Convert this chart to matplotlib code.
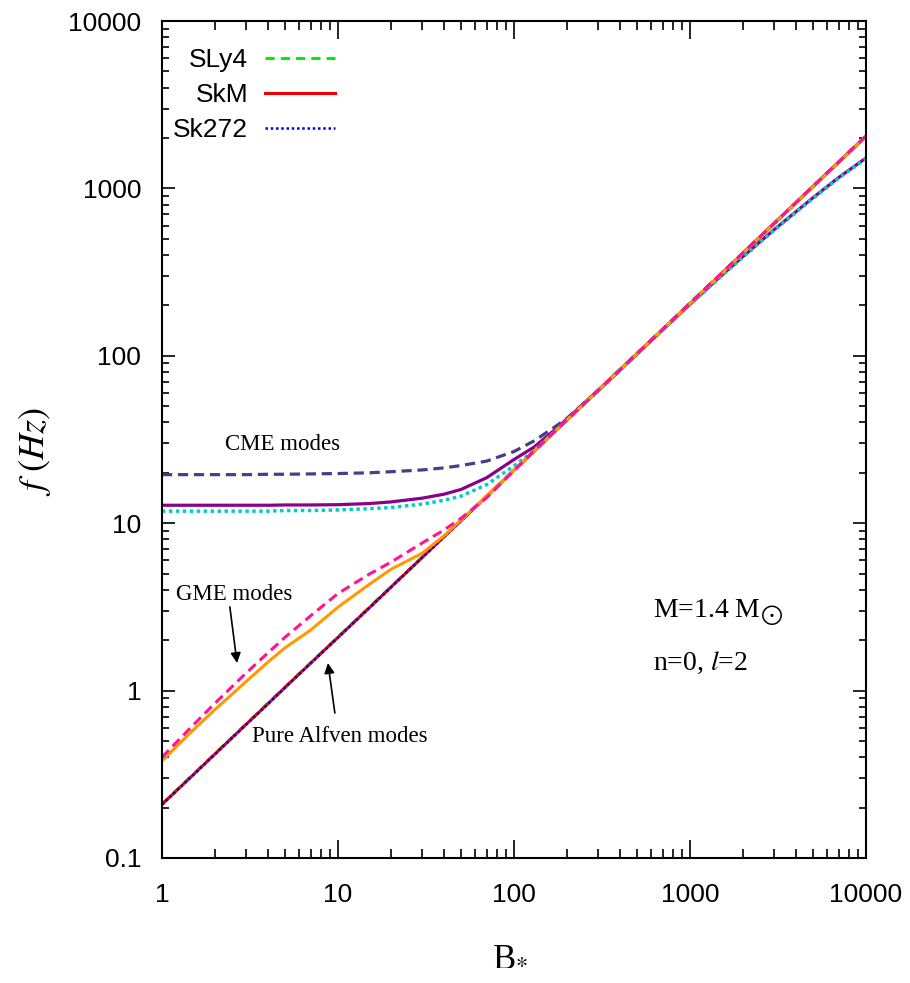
import matplotlib
matplotlib.use("Agg")
import matplotlib.pyplot as plt
from matplotlib.ticker import FixedLocator, FixedFormatter, NullFormatter, LogLocator
from matplotlib.font_manager import FontProperties

# ---------------- data ----------------
B = [1, 1.5, 2, 3, 4, 5, 7, 10, 15, 20, 30, 40, 50, 70, 100, 130, 170, 200,
     300, 500, 700, 1000, 1500, 2000, 3000, 5000, 7000, 10000]

# Pure Alfven modes
alf_sly4 = [0.210, 0.315, 0.42, 0.63, 0.84, 1.05, 1.465, 2.09, 3.13, 4.17, 6.25, 8.33,
            10.4, 14.56, 20.8, 27.0, 35.4, 41.6, 62.2, 103.5, 144.5, 206, 309, 412, 618,
            1030, 1440, 2060]
alf_skm = [0.209, 0.313, 0.418, 0.627, 0.835, 1.044, 1.46, 2.08, 3.11, 4.15, 6.22, 8.29,
           10.35, 14.5, 20.7, 26.9, 35.2, 41.4, 61.9, 103, 144, 205, 307, 410, 615,
           1025, 1435, 2050]
alf_sk272 = [0.208, 0.312, 0.416, 0.624, 0.83, 1.04, 1.455, 2.07, 3.1, 4.13, 6.2, 8.26,
             10.3, 14.4, 20.6, 26.8, 35.0, 41.2, 61.6, 102.5, 143.5, 204, 306, 408, 612,
             1020, 1428, 2040]

# GME modes
gme_sly4 = [0.40, 0.62, 0.84, 1.27, 1.68, 2.08, 2.8, 3.8, 4.95, 5.85, 7.6, 9.1,
            10.7, 14.2, 20.6, 27.0, 35.2, 41.4, 61.8, 103, 144, 206, 309, 412, 618,
            1030, 1440, 2060]
gme_skm = [0.38, 0.58, 0.77, 1.13, 1.48, 1.80, 2.3, 3.15, 4.3, 5.3, 6.6, 8.4,
           10.45, 14.5, 20.7, 26.9, 35.2, 41.4, 61.9, 103, 144, 205, 307, 410, 615,
           1025, 1435, 2050]

# CME modes
cme_sly4 = [19.5, 19.5, 19.5, 19.5, 19.6, 19.6, 19.7, 19.8, 20.0, 20.3, 20.8, 21.4,
            22.1, 23.5, 26.8, 31.0, 37.5, 42.3, 62.0, 103, 144, 206, 308, 411, 617,
            1028, 1438, 2055]
cme_skm = [12.8, 12.8, 12.8, 12.8, 12.8, 12.85, 12.85, 12.9, 13.1, 13.4, 14.1, 14.9,
           15.9, 18.7, 24.0, 28.5, 36.0, 42.0, 62.0, 102.5, 143, 203, 300, 392, 566,
           880, 1162, 1520]
cme_sk272 = [11.8, 11.8, 11.8, 11.8, 11.8, 11.9, 11.9, 12.0, 12.2, 12.4, 13.0, 13.7,
             14.5, 17.0, 22.0, 27.2, 35.2, 41.3, 61.5, 102, 142.5, 202, 298, 389, 562,
             872, 1152, 1505]

eos_labels = ["SLy4", "SkM", "Sk272"]
xticks = [1, 10, 100, 1000, 10000]
xticklabels = ["1", "10", "100", "1000", "10000"]
yticks = [0.1, 1, 10, 100, 1000, 10000]
yticklabels = ["0.1", "1", "10", "100", "1000", "10000"]

# ---------------- style ----------------
plt.rcParams["mathtext.fontset"] = "stix"
sans = FontProperties(family=["Liberation Sans", "DejaVu Sans"], stretch="condensed", size=19)
serif_family = ["Liberation Serif", "DejaVu Serif"]

fig = plt.figure(figsize=(9.1, 9.83), dpi=100)
ax = fig.add_axes([0.178, 0.1272, 0.7736, 0.8514])
ax.set_xscale("log")
ax.set_yscale("log")
ax.set_xlim(1, 10000)
ax.set_ylim(0.1, 10000)

# Pure Alfven
l1, = ax.plot(B, alf_sly4, color="#00ee00", lw=2.2, ls=(0, (3, 2)), label=eos_labels[0])
l2, = ax.plot(B, alf_skm, color="#ee0000", lw=2.2, ls="-", label=eos_labels[1])
l3, = ax.plot(B, alf_sk272, color="#0000ee", lw=1.8, ls=(0, (1, 1.1)), label=eos_labels[2])

# CME
ax.plot(B, cme_skm, color="#8b008b", lw=2.3, ls="-")
ax.plot(B, cme_sk272, color="#00cccc", lw=2.5, ls=(0, (1, 1)))
ax.plot(B, cme_sly4, color="#483d8b", lw=2.3, ls=(0, (3.2, 1.8)))

# GME
ax.plot(B, gme_skm, color="#ff9900", lw=2.2, ls="-")
ax.plot(B, gme_sly4, color="#ff1493", lw=2.2, ls=(0, (3.2, 1.8)))

# axes / ticks
for sp in ax.spines.values():
    sp.set_linewidth(1.5)
ax.xaxis.set_major_locator(FixedLocator(xticks))
ax.xaxis.set_major_formatter(FixedFormatter(xticklabels))
ax.yaxis.set_major_locator(FixedLocator(yticks))
ax.yaxis.set_major_formatter(FixedFormatter(yticklabels))
ax.xaxis.set_minor_locator(LogLocator(base=10, subs=range(2, 10), numticks=20))
ax.yaxis.set_minor_locator(LogLocator(base=10, subs=range(2, 10), numticks=20))
ax.xaxis.set_minor_formatter(NullFormatter())
ax.yaxis.set_minor_formatter(NullFormatter())
ax.tick_params(which="both", direction="in", top=True, right=True, width=1.2)
ax.tick_params(axis="x", which="major", length=13, pad=18)
ax.tick_params(axis="x", which="minor", length=6.5)
ax.tick_params(axis="y", which="major", length=9.5, pad=15)
ax.tick_params(axis="y", which="minor", length=5)
for t in ax.get_xticklabels() + ax.get_yticklabels():
    t.set_fontproperties(sans)

ax.set_xlabel(r"B$_{*}$", fontsize=25, family=serif_family)
ax.xaxis.set_label_coords(0.494, -0.098)
ax.set_ylabel(r"$f\ (Hz)$", fontsize=26)
ax.yaxis.set_label_coords(-0.155, 0.485)

# legend
leg = ax.legend(handles=[l1, l2, l3], loc="upper right", bbox_to_anchor=(0.246, 0.968),
                markerfirst=False, frameon=False, handlelength=2.65, handletextpad=0.64,
                labelspacing=0.42, borderaxespad=0, borderpad=0, prop=sans)

# annotations
ax.text(4.87, 27.4, "CME modes", fontsize=16.5, family=serif_family, ha="center", va="baseline")
ax.text(2.56, 3.48, "GME modes", fontsize=16.5, family=serif_family, ha="center", va="baseline")
ax.text(10.3, 0.493, "Pure Alfven modes", fontsize=16.5, family=serif_family, ha="center", va="baseline")
ax.text(616, 2.75, r"M=1.4 M$_{\bigodot}$", fontsize=20, family=serif_family, ha="left", va="baseline")
ax.text(616, 1.33, r"n=0, $l$=2", fontsize=20, family=serif_family, ha="left", va="baseline")

ax.annotate("", xy=(2.67, 1.46), xytext=(2.43, 3.16),
            arrowprops=dict(arrowstyle="-|>", color="black", lw=1.2, mutation_scale=15,
                            shrinkA=0, shrinkB=0))
ax.annotate("", xy=(8.77, 1.46), xytext=(9.6, 0.735),
            arrowprops=dict(arrowstyle="-|>", color="black", lw=1.2, mutation_scale=15,
                            shrinkA=0, shrinkB=0))

fig.savefig("out.png", dpi=100)
